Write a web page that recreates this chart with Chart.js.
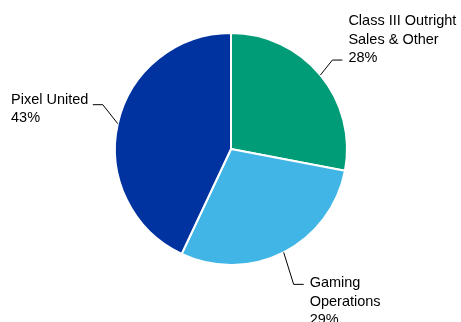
<!DOCTYPE html>
<html>
<head>
<meta charset="utf-8">
<script src="https://cdn.jsdelivr.net/npm/chart.js@4"></script>
<style>
  html, body { margin: 0; padding: 0; background: #fff; }
  #wrap { width: 461px; height: 322px; }
</style>
</head>
<body>
<div id="wrap"><canvas id="canvas" width="461" height="322"></canvas></div>
<script>
// Segment data, clockwise from 12 o'clock
const categories = ['Class III Outright Sales & Other', 'Gaming Operations', 'Pixel United'];
const labelLines = [
  ['Class III Outright', 'Sales & Other'],
  ['Gaming', 'Operations'],
  ['Pixel United']
];
const shares = [28, 29, 43];
const colors = ['#009B77', '#41B6E6', '#0033A0'];

// leader line elbow offsets and which text line sits on the elbow
const leaders = [
  { dx: 12, dy: -15, side: 1, anchorLine: 2, textDy: -2 },
  { dx: 10, dy: 32, side: 1, anchorLine: 0, textDy: -1 },
  { dx: -15, dy: -19, side: -1, anchorLine: 0, textDy: -5 }
];

const leaderLabels = {
  id: 'leaderLabels',
  afterDatasetsDraw(chart) {
    const ctx = chart.ctx;
    const arcs = chart.getDatasetMeta(0).data;
    ctx.save();
    ctx.font = '14.5px "Liberation Sans", Arial, sans-serif';
    ctx.fillStyle = '#000';
    ctx.strokeStyle = '#000';
    ctx.lineWidth = 1;
    ctx.textBaseline = 'middle';
    arcs.forEach((arc, i) => {
      const p = arc.getProps(['x', 'y', 'startAngle', 'endAngle', 'outerRadius'], true);
      const mid = (p.startAngle + p.endAngle) / 2;
      const sx = p.x + Math.cos(mid) * p.outerRadius;
      const sy = p.y + Math.sin(mid) * p.outerRadius;
      const L = leaders[i];
      const ex = sx + L.dx, ey = sy + L.dy;
      const hx = ex + L.side * 10;
      ctx.beginPath();
      ctx.moveTo(sx, sy);
      ctx.lineTo(ex, ey);
      ctx.lineTo(hx, ey);
      ctx.stroke();
      const lines = labelLines[i].concat([shares[i] + '%']);
      const lh = 18.5;
      const tx = L.side > 0 ? hx + 6 : 11;
      ctx.textAlign = 'left';
      lines.forEach((t, k) => {
        ctx.fillText(t, tx, ey + L.textDy + (k - L.anchorLine) * lh);
      });
    });
    ctx.restore();
  }
};

new Chart(document.getElementById('canvas').getContext('2d'), {
  type: 'pie',
  data: {
    labels: categories,
    datasets: [{
      data: shares,
      backgroundColor: colors,
      borderColor: '#fff',
      borderWidth: 2
    }]
  },
  options: {
    responsive: false,
    animation: false,
    layout: { padding: { left: 114, right: 113, top: 32, bottom: 56 } },
    plugins: { legend: { display: false }, tooltip: { enabled: false } }
  },
  plugins: [leaderLabels]
});
</script>
</body>
</html>
